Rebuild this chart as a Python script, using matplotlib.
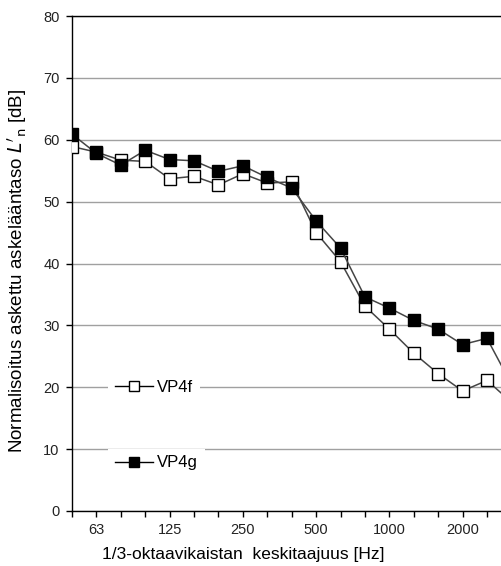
import numpy as np
import matplotlib
matplotlib.use("Agg")
import matplotlib.pyplot as plt
from matplotlib.lines import Line2D

plt.rcParams['font.family'] = ['Liberation Sans', 'DejaVu Sans']

# 1/3-oktaavikaistat 50 ... 3150 Hz
bands = [50, 63, 80, 100, 125, 160, 200, 250, 315, 400, 500, 630,
         800, 1000, 1250, 1600, 2000, 2500, 3150]
vp4f = [58.9, 58.0, 56.7, 56.5, 53.7, 54.1, 52.7, 54.5, 53.0, 53.2, 45.0, 40.3,
        33.1, 29.4, 25.5, 22.2, 19.4, 21.1, 17.6]
vp4g = [60.9, 57.8, 55.9, 58.3, 56.8, 56.6, 54.9, 55.8, 53.9, 52.2, 46.9, 42.5,
        34.6, 32.8, 30.8, 29.4, 26.9, 27.9, 20.5]
tick_bands = [63, 125, 250, 500, 1000, 2000]

W, H = 502, 566
fig = plt.figure(figsize=(W / 100, H / 100), dpi=100)
ax = fig.add_axes([72 / W, 55 / H, 476 / W, 495 / H])

x = np.arange(len(bands))
ax.plot(x, vp4f, color='#454545', lw=1.1, marker='s', markersize=8,
        markerfacecolor='white', markeredgecolor='black', markeredgewidth=1, zorder=3)
ax.plot(x, vp4g, color='#454545', lw=1.1, marker='s', markersize=8,
        markerfacecolor='black', markeredgecolor='black', zorder=4)

ax.set_xlim(0, 19.5)
ax.set_ylim(0, 80)
ax.set_yticks(range(0, 81, 10))
ax.set_xticks(x)
ax.set_xticklabels([str(b) if b in tick_bands else '' for b in bands])
ax.tick_params(axis='both', direction='out', length=4, width=1, colors='black',
               labelsize=10.5, labelcolor='#222222', pad=5)
ax.grid(axis='y', color='#a0a0a0', lw=1)
ax.set_axisbelow(True)
for s in ['left', 'bottom', 'top']:
    ax.spines[s].set_color('black')
    ax.spines[s].set_linewidth(1)
ax.spines['right'].set_visible(False)

ax.set_xlabel('1/3-oktaavikaistan  keskitaajuus [Hz]', fontsize=12.5)
ax.xaxis.set_label_coords((243 - 72) / 476, -36 / 495)
ax.set_ylabel("Normalisoitus askettu askelääntaso $L'_{\\mathrm{n}}$ [dB]",
              fontsize=13.5)
ax.yaxis.set_label_coords(-43 / 476, (511 - 271) / 495)

h1 = Line2D([], [], color='black', lw=1, marker='s', markersize=7,
            markerfacecolor='white', markeredgecolor='black')
h2 = Line2D([], [], color='black', lw=1, marker='s', markersize=7,
            markerfacecolor='black', markeredgecolor='black')
leg_kw = dict(loc='center left', bbox_transform=fig.transFigure, frameon=True,
              facecolor='white', edgecolor='none', framealpha=1, fancybox=False,
              fontsize=12, handlelength=2.3, handletextpad=0.25, borderpad=0.4,
              borderaxespad=0)
l1 = ax.legend([h1], ['VP4f'], bbox_to_anchor=(108 / W, 1 - 387 / H), **leg_kw)
ax.add_artist(l1)
ax.legend([h2], ['VP4g'], bbox_to_anchor=(108 / W, 1 - 463 / H), **leg_kw)

fig.savefig('out.png', dpi=100)
